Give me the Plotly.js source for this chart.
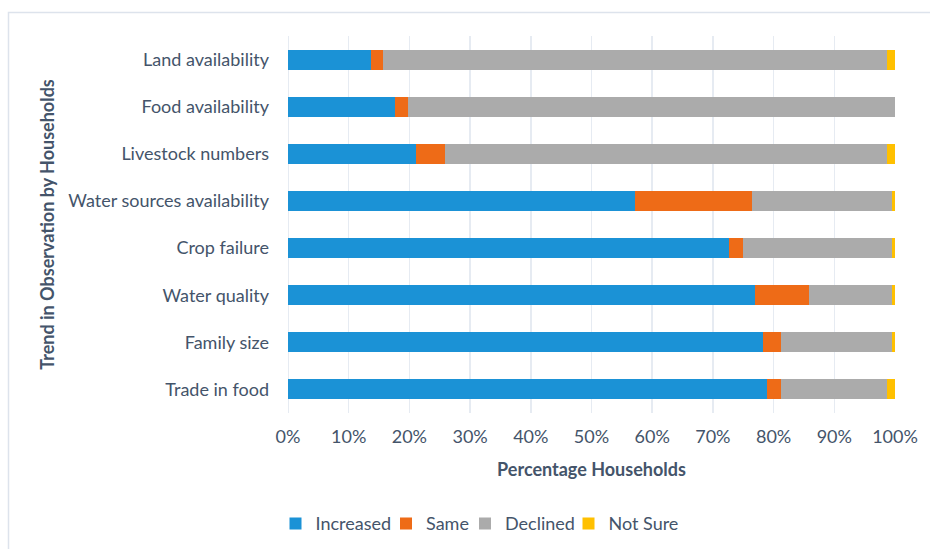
<!DOCTYPE html>
<html>
<head>
<meta charset="utf-8">
<script src="https://cdn.plot.ly/plotly-3.0.1.min.js"></script>
<style>html,body{margin:0;padding:0;background:#fff;}#chart{width:930px;height:549px;}</style>
</head>
<body>
<div id="chart"></div>
<script>
const categories = ["Land availability","Food availability","Livestock numbers","Water sources availability","Crop failure","Water quality","Family size","Trade in food"];
const increased = [13.7, 17.7, 21.1, 57.2, 72.6, 76.9, 78.2, 78.9];
const same      = [2.0, 2.0, 4.8, 19.2, 2.3, 9.0, 3.0, 2.3];
const declined  = [82.9, 80.3, 72.7, 23.1, 24.6, 13.6, 18.3, 17.4];
const notSure   = [1.4, 0.0, 1.4, 0.5, 0.5, 0.5, 0.5, 1.4];
const tickVals  = [0,10,20,30,40,50,60,70,80,90,100];
const tickText  = ["0%","10%","20%","30%","40%","50%","60%","70%","80%","90%","100%"];

const txt = "#44546a";
const fontFam = "Lato, 'Open Sans', sans-serif";
function tr(name, vals, color, lg){
  return {type:'bar', orientation:'h', name:name, x:vals, y:categories, legend:lg,
          marker:{color:color, line:{width:0}}, hoverinfo:'x+name'};
}
const data = [
  tr("Increased", increased, "#1b92d6", 'legend'),
  tr("Same", same, "#ee6b17", 'legend2'),
  tr("Declined", declined, "#ababab", 'legend3'),
  tr("Not Sure", notSure, "#ffc000", 'legend4')
];
function lg(px){
  return {orientation:'h', xref:'container', yref:'container', x:px/930, xanchor:'left',
          y:0.046, yanchor:'middle', font:{size:18, color:txt}, itemwidth:30,
          bgcolor:'rgba(0,0,0,0)'};
}
const layout = {
  width:930, height:549,
  paper_bgcolor:'#fff', plot_bgcolor:'#fff',
  barmode:'stack', bargap:0.575,
  margin:{l:287.5, r:34.5, t:36, b:136},
  font:{family:fontFam, color:txt, size:18},
  xaxis:{range:[0,100], tickvals:tickVals, ticktext:tickText, showgrid:true,
         gridcolor:'#e6ebf2', gridwidth:1.5, zeroline:false, showline:false, ticks:'',
         ticklabelstandoff:11, tickfont:{size:18, color:txt},
         title:{text:"<b>Percentage Households</b>", font:{size:18, color:txt}, standoff:17}},
  yaxis:{type:'category', autorange:'reversed', showgrid:false, zeroline:false,
         showline:false, ticks:'', ticklabelstandoff:18, tickfont:{size:18, color:txt},
         title:{text:"<b>Trend in Observation by Households</b>", font:{size:18, color:txt}, standoff:8}},
  legend:lg(275.5), legend2:lg(386), legend3:lg(465), legend4:lg(568.5),
  showlegend:true,
  shapes:[
    {type:'line', xref:'x', yref:'paper', x0:0, x1:0, y0:0, y1:1, line:{color:'#e6ebf2', width:2}, layer:'below'}
  ]
};
Plotly.newPlot('chart', data, layout, {displayModeBar:false, staticPlot:true}).then(function(){
  const svg = document.querySelector('#chart svg.main-svg');
  const ns = 'http://www.w3.org/2000/svg';
  const r = document.createElementNS(ns,'rect');
  r.setAttribute('x','8.5'); r.setAttribute('y','12.5');
  r.setAttribute('width','940'); r.setAttribute('height','560');
  r.setAttribute('fill','none'); r.setAttribute('stroke','#dde3ec'); r.setAttribute('stroke-width','1.5');
  svg.appendChild(r);
});
</script>
</body>
</html>
